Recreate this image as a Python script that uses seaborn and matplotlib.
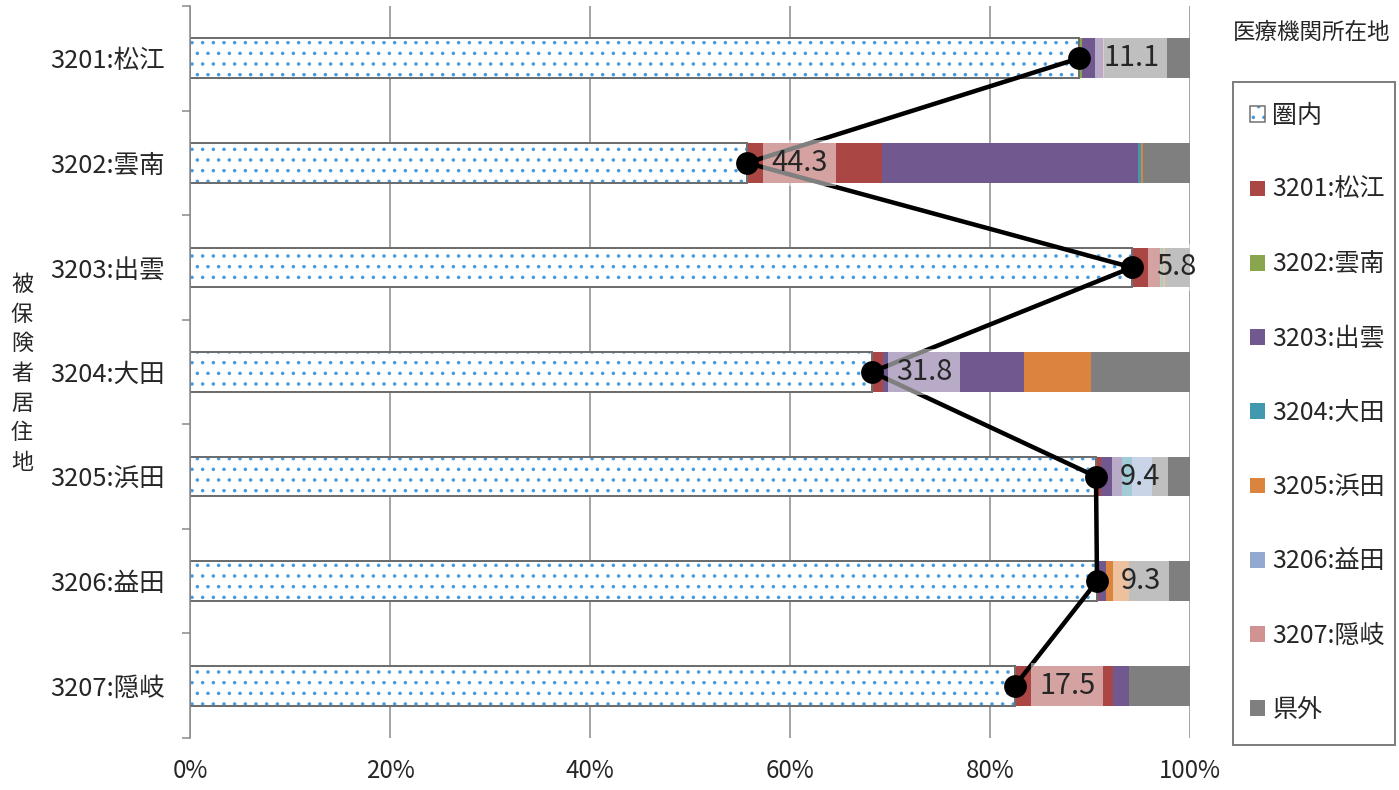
import numpy as np
import pandas as pd
import matplotlib
matplotlib.use("Agg")
import matplotlib.pyplot as plt
import seaborn as sns
from matplotlib.patches import Patch, Rectangle
from matplotlib.ticker import FixedLocator, PercentFormatter

DPI = 128
W, H = 1399, 790


def px(v):
    # pixel size -> points at the output dpi
    return v * 72 / DPI


# --- DATA: share of patients (%) by residence area -> facility area ---
residence = ["3201:松江", "3202:雲南", "3203:出雲", "3204:大田", "3205:浜田", "3206:益田", "3207:隠岐"]
series_names = ["圏内", "3201:松江", "3202:雲南", "3203:出雲", "3204:大田",
                "3205:浜田", "3206:益田", "3207:隠岐", "県外"]

inside = [88.9, 55.7, 94.2, 68.2, 90.6, 90.7, 82.5]
to_3201 = [0.0, 13.5, 2.8, 1.1, 0.5, 0.2, 9.8]
to_3202 = [0.3, 0.0, 0.1, 0.0, 0.0, 0.0, 0.0]
to_3203 = [2.1, 25.6, 0.0, 14.1, 2.1, 0.7, 1.6]
to_3204 = [0.0, 0.3, 0.2, 0.0, 1.0, 0.0, 0.0]
to_3205 = [0.0, 0.2, 0.2, 6.7, 0.0, 2.3, 0.0]
to_3206 = [0.0, 0.0, 0.0, 0.0, 2.0, 0.0, 0.0]
to_3207 = [0.1, 0.0, 0.0, 0.0, 0.0, 0.0, 0.0]
outside = [8.6, 4.7, 2.5, 9.9, 3.8, 6.1, 6.1]
outflow = [11.1, 44.3, 5.8, 31.8, 9.4, 9.3, 17.5]

seg_colors = ["#AA4643", "#89A54E", "#71588F", "#4198AF", "#DB843D", "#93A9CF", "#D19392", "#7F7F7F"]
DOT_BLUE = "#4A9BDC"
BORDER = "#6E6E6E"
GRID = "#888888"

df = pd.DataFrame({"居住地": residence, "圏内": inside,
                   "3201:松江": to_3201, "3202:雲南": to_3202, "3203:出雲": to_3203,
                   "3204:大田": to_3204, "3205:浜田": to_3205, "3206:益田": to_3206,
                   "3207:隠岐": to_3207, "県外": outside})
cum = df[series_names].cumsum(axis=1)

sns.set_theme(style="white")
plt.rcParams["font.family"] = ["Noto Sans CJK JP", "DejaVu Sans"]
plt.rcParams["hatch.linewidth"] = px(1.4)

fig = plt.figure(figsize=(W / DPI, H / DPI), dpi=DPI)
ax = fig.add_axes([190 / W, 52 / H, 1000 / W, 732 / H])

# stacked bars: cumulative totals, outermost segment first
for name, col in reversed(list(zip(series_names[1:], seg_colors))):
    n0 = len(ax.patches)
    sns.barplot(x=cum[name], y=df["居住地"], color=col, saturation=1, width=0.38,
                orient="y", errorbar=None, ax=ax)
    for p in ax.patches[n0:]:
        p.set_linewidth(0)

# 圏内: dotted fill + grey border
n0 = len(ax.patches)
sns.barplot(x=df["圏内"], y=df["居住地"], color="white", saturation=1, width=0.38,
            orient="y", errorbar=None, ax=ax)
for p in ax.patches[n0:]:
    p.set_facecolor("white")
    p.set_edgecolor(DOT_BLUE)
    p.set_hatch("..")
    p.set_linewidth(0)
n0 = len(ax.patches)
sns.barplot(x=df["圏内"], y=df["居住地"], color=BORDER, saturation=1, width=0.38,
            orient="y", errorbar=None, fill=False, ax=ax)
for p in ax.patches[n0:]:
    p.set_facecolor("none")
    p.set_edgecolor(BORDER)
    p.set_linewidth(px(2))

# outflow line
ax.plot(df["圏内"], df["居住地"], color="black", lw=px(4.5), marker="o", ms=px(21), zorder=4)
for xv, cat, lab in zip(inside, residence, outflow):
    ax.annotate(f"{lab:.1f}", xy=(xv, cat), xytext=(px(24), 0), textcoords="offset points",
                ha="left", va="center", fontsize=px(29), zorder=6, annotation_clip=False,
                bbox=dict(boxstyle="square,pad=0.28", fc="white", ec="none", alpha=0.5))

ax.set_xlim(0, 100)
ax.set_ylim(6.5, -0.5)
ax.set_xlabel("")
ax.set_ylabel("")
ax.xaxis.set_major_locator(FixedLocator([0, 20, 40, 60, 80, 100]))
ax.xaxis.set_major_formatter(PercentFormatter(decimals=0))
ax.grid(axis="x", color=GRID, lw=px(1.5))
ax.set_axisbelow(True)
ax.yaxis.set_minor_locator(FixedLocator(np.arange(-0.5, 7, 1)))
ax.tick_params(axis="y", which="major", length=0, pad=px(25), labelsize=px(25.5))
ax.tick_params(axis="y", which="minor", left=True, length=px(8), width=px(1.5), color=GRID)
ax.tick_params(axis="x", length=0, pad=px(20), labelsize=px(24))
for s in ["top", "right", "bottom"]:
    ax.spines[s].set_visible(False)
ax.spines["left"].set_color(GRID)
ax.spines["left"].set_linewidth(px(1.5))

# legend
handles = [(Patch(facecolor="white", edgecolor=DOT_BLUE, hatch="..", lw=0),
            Patch(facecolor="none", edgecolor=BORDER, lw=px(1.5)))]
handles += [Patch(facecolor=c, edgecolor="none") for c in seg_colors]
fig.legend(handles, series_names, loc="center left", bbox_to_anchor=(1250 / W, 1 - 413 / H),
           frameon=False, fontsize=px(25), handlelength=0.6, handleheight=0.6,
           handletextpad=0.3, labelspacing=1.93, borderpad=0, borderaxespad=0)
fig.add_artist(Rectangle((1233 / W, 1 - 745 / H), (1395 - 1233) / W, (745 - 82) / H,
                         transform=fig.transFigure, fill=False, ec="#7F7F7F", lw=px(2)))
fig.text(1233 / W, 1 - 32 / H, "医療機関所在地", ha="left", va="center", fontsize=px(22.5))
fig.text(22 / W, 1 - 374 / H, "\n".join("被保険者居住地"), ha="center", va="center",
         fontsize=px(22), linespacing=1.45)

fig.savefig("out.png", dpi=DPI)
